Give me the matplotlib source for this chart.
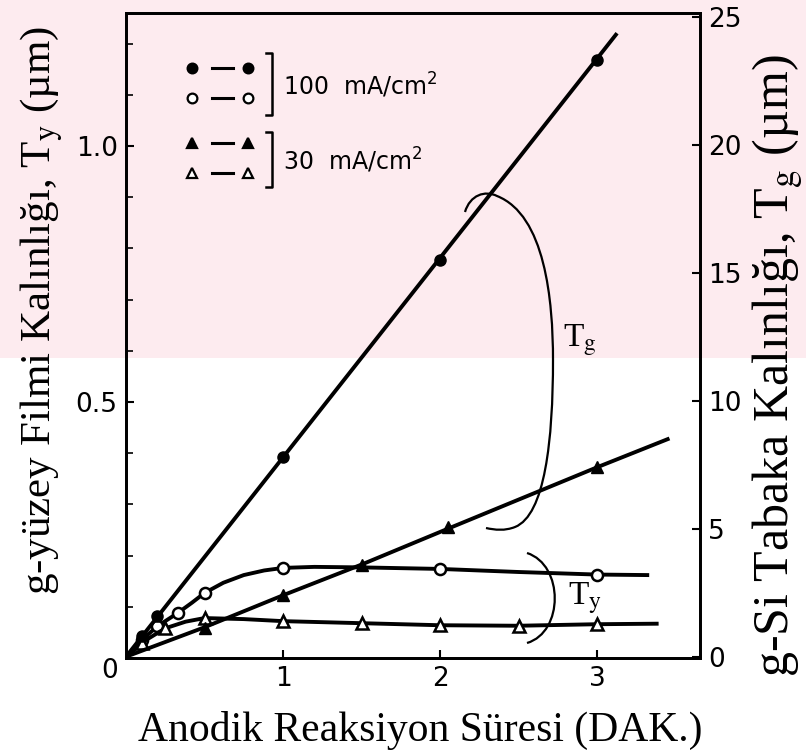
import numpy as np
import matplotlib
matplotlib.use('Agg')
import matplotlib.pyplot as plt
from matplotlib.path import Path
from matplotlib.patches import PathPatch, Rectangle

plt.rcParams['font.family'] = ['Liberation Serif', 'DejaVu Serif']
plt.rcParams['mathtext.fontset'] = 'stix'

# --- data (time in min) ---
# g-Si layer thickness Tg (right axis, um), 100 mA/cm2 (filled circles)
t_tg100 = [0.1, 0.2, 1.0, 2.0, 3.0]
tg100 = [0.8, 1.6, 7.8, 15.5, 23.3]
t_tg100_fit = [0.0, 3.12]
tg100_fit = [0.0, 24.3]

# Tg, 30 mA/cm2 (filled triangles)
t_tg30 = [0.5, 1.0, 1.5, 2.05, 3.0]
tg30 = [1.13, 2.4, 3.6, 5.08, 7.4]
t_tg30_fit = [0.0, 0.5, 1.0, 1.5, 2.05, 3.0, 3.45]
tg30_fit = [0.0, 1.15, 2.4, 3.6, 5.0, 7.4, 8.5]

# surface film thickness Ty (left axis, um), 100 mA/cm2 (open circles)
t_ty100 = [0.1, 0.2, 0.33, 0.5, 1.0, 2.0, 3.0]
ty100 = [0.035, 0.062, 0.088, 0.127, 0.176, 0.174, 0.163]
t_ty100_fit = [0.0, 0.1, 0.2, 0.33, 0.42, 0.5, 0.62, 0.75, 0.88, 1.0, 1.2, 1.5, 2.0, 2.5,
               3.0, 3.32]
ty100_fit = [0.0, 0.035, 0.062, 0.088, 0.108, 0.127, 0.147, 0.162, 0.171, 0.176, 0.178,
             0.177, 0.174, 0.168, 0.163, 0.162]

# Ty, 30 mA/cm2 (open triangles)
t_ty30 = [0.1, 0.25, 0.5, 1.0, 1.5, 2.0, 2.5, 3.0]
ty30 = [0.03, 0.058, 0.078, 0.072, 0.068, 0.064, 0.063, 0.066]
t_ty30_fit = [0.0, 0.1, 0.25, 0.38, 0.5, 0.75, 1.0, 1.5, 2.0, 2.5, 3.0, 3.38]
ty30_fit = [0.0, 0.03, 0.058, 0.071, 0.078, 0.076, 0.072, 0.068, 0.064, 0.063, 0.066, 0.067]

x_ticks = [1, 2, 3]
left_ticks = [0, 0.5, 1.0]
left_labels = ['0', '0.5', '1.0']
right_ticks = [0, 5, 10, 15, 20, 25]

W, H = 806, 752
fig = plt.figure(figsize=(W / 100, H / 100), dpi=100)

# light pink watermark band behind the upper part of the figure
fig.patches.append(Rectangle((0, 1 - 358 / H), 1, 358 / H, transform=fig.transFigure,
                             facecolor='#fdebef', edgecolor='none', zorder=-10))

L, R, T, B = 126, 700, 13, 658
ax = fig.add_axes([L / W, 1 - B / H, (R - L) / W, (B - T) / H])
ax.set_facecolor('none')
ax2 = ax.twinx()

def px(x, y):
    # pixel position -> axes fraction (for annotations only)
    return ((x - L) / (R - L), (B - y) / (B - T))

lw = 2.8
ax2.plot(t_tg100_fit, tg100_fit, color='black', lw=lw)
ax2.plot(t_tg100, tg100, 'o', color='black', ms=8)
ax2.plot(t_tg30_fit, tg30_fit, color='black', lw=lw)
ax2.plot(t_tg30, tg30, '^', color='black', ms=9)

ax.plot(t_ty100_fit, ty100_fit, color='black', lw=lw)
ax.plot(t_ty100, ty100, 'o', mfc='white', mec='black', mew=1.8, ms=8)
ax.plot(t_ty30_fit, ty30_fit, color='black', lw=lw)
ax.plot(t_ty30, ty30, '^', mfc='white', mec='black', mew=1.8, ms=8.5)

ax.set_xlim(0, 3.656)
ax.set_ylim(0, 1.26)
ax2.set_ylim(-0.05, 25.15)

tick_font = dict(family='DejaVu Sans', size=19)
ax.set_xticks(x_ticks)
ax.set_xticklabels([str(v) for v in x_ticks], fontdict=tick_font)
ax.set_yticks(left_ticks)
ax.set_yticklabels(left_labels, fontdict=tick_font)
ax.get_yticklabels()[0].set_va('top')
ax.set_yticks(np.arange(0.1, 1.25, 0.1), minor=True)
ax2.set_yticks(right_ticks)
ax2.set_yticklabels([str(v) for v in right_ticks], fontdict=tick_font)

for a in (ax, ax2):
    a.tick_params(direction='in', length=6, width=1.5, pad=6)
    a.tick_params(which='minor', direction='in', length=5, width=1.2)
    for s in a.spines.values():
        s.set_linewidth(2)

# axis titles placed at the positions they have in the original
fig.text(420 / W, 1 - 741 / H, 'Anodik Reaksiyon Süresi (DAK.)', fontsize=30,
         ha='center', va='baseline')
fig.text(42 / W, 1 - 310 / H, 'g-yüzey Filmi Kalınlığı, T$_\\mathrm{y}$ (µm)',
         fontsize=31, rotation=90, ha='center', va='center')
fig.text(778 / W, 1 - 366 / H, 'g-Si Tabaka Kalınlığı, T$_\\mathrm{g}$ (µm)',
         fontsize=36, rotation=90, ha='center', va='center')

# legend drawn by hand, as in the original
rows = [(68, 'o', 'black'), (98, 'o', 'white'), (143, '^', 'black'), (173, '^', 'white')]
for y, m, fc in rows:
    for x in (192, 248):
        ax.plot(*px(x, y), marker=m, mfc=fc, mec='black', mew=1.6, ms=7,
                transform=ax.transAxes, clip_on=False)
    ax.plot([px(212, y)[0], px(233, y)[0]], [px(212, y)[1]] * 2, color='black',
            lw=2.2, transform=ax.transAxes)
for y0, y1 in ((53, 115), (132, 187)):
    xs = [px(266, y0)[0], px(272, y0)[0], px(272, y1)[0], px(266, y1)[0]]
    ys = [px(266, y0)[1], px(272, y0)[1], px(272, y1)[1], px(266, y1)[1]]
    ax.plot(xs, ys, color='black', lw=1.8, transform=ax.transAxes)
ax.text(*px(283, 85), '100  mA/cm$^2$', transform=ax.transAxes, fontsize=17,
        family='DejaVu Sans', va='center', ha='left', math_fontfamily='dejavusans')
ax.text(*px(283, 160), '30  mA/cm$^2$', transform=ax.transAxes, fontsize=17,
        family='DejaVu Sans', va='center', ha='left', math_fontfamily='dejavusans')

# bracket for Tg
verts = [(465, 212), (470, 195), (485, 190), (497, 196),
         (545, 215), (553, 300), (553, 360),
         (553, 440), (545, 515), (515, 527),
         (505, 531), (495, 530), (486, 528)]
codes = [Path.MOVETO] + [Path.CURVE4] * 12
ax.add_patch(PathPatch(Path([px(*v) for v in verts], codes), transform=ax.transAxes,
                       facecolor='none', edgecolor='black', lw=1.6))
ax.text(*px(580, 340), 'T$_\\mathrm{g}$', transform=ax.transAxes, fontsize=24,
        ha='center', va='center')

# bracket for Ty
verts = [(527, 553), (564, 565), (564, 632), (527, 643)]
codes = [Path.MOVETO] + [Path.CURVE4] * 3
ax.add_patch(PathPatch(Path([px(*v) for v in verts], codes), transform=ax.transAxes,
                       facecolor='none', edgecolor='black', lw=1.6))
ax.text(*px(585, 598), 'T$_\\mathrm{y}$', transform=ax.transAxes, fontsize=24,
        ha='center', va='center')

fig.savefig('out.png', dpi=100)
